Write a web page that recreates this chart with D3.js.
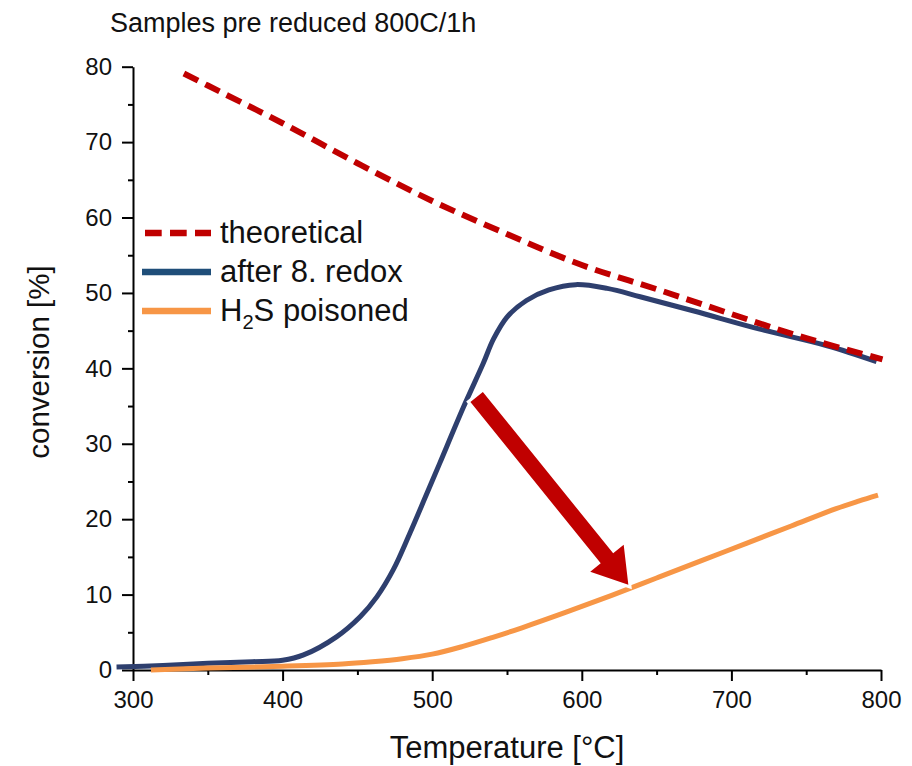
<!DOCTYPE html>
<html>
<head>
<meta charset="utf-8">
<script src="https://cdn.jsdelivr.net/npm/d3@7"></script>
<style>
  html, body { margin: 0; padding: 0; background: #fff; }
  svg { display: block; font-family: "Liberation Sans", Arial, sans-serif; }
</style>
</head>
<body>
<svg id="chart" width="912" height="766"></svg>
<script>
// ---------- data ----------
const titleText = "Samples pre reduced 800C/1h";
const xLabel = "Temperature [°C]";
const yLabel = "conversion [%]";

const xTicks = [300, 400, 500, 600, 700, 800];
const xMinorTicks = [350, 450, 550, 650, 750];
const yTicks = [0, 10, 20, 30, 40, 50, 60, 70, 80];
const yMinorTicks = [5, 15, 25, 35, 45, 55, 65, 75];

const seriesNames = ["theoretical", "after 8. redox", "H2S poisoned"];

const theoreticalT = [334, 350, 400, 450, 500, 550, 600, 650, 700, 750, 801];
const theoreticalV = [79.1, 77.5, 72.5, 67.2, 62.2, 57.8, 53.7, 50.5, 47.2, 44.0, 41.2];

const redoxT = [289, 320, 350, 380, 400, 414, 436, 452, 463, 474, 485, 496, 505, 521, 534, 541, 550, 563, 578, 596, 617, 639, 675, 719, 764, 797];
const redoxV = [0.4, 0.6, 0.9, 1.1, 1.3, 2.0, 4.4, 7.1, 9.7, 13.3, 18.1, 23.2, 27.4, 34.9, 40.6, 43.9, 46.8, 49.0, 50.4, 51.1, 50.6, 49.5, 47.6, 45.2, 43.0, 40.9];

const poisonedT = [312, 350, 400, 440, 460, 480, 500, 520, 540, 560, 590, 620, 650, 680, 710, 740, 770, 785, 798];
const poisonedV = [0.0, 0.25, 0.5, 0.8, 1.1, 1.5, 2.1, 3.1, 4.3, 5.6, 7.7, 9.9, 12.2, 14.5, 16.8, 19.1, 21.4, 22.4, 23.2];

// arrow annotation (data coordinates): tail -> tip
const arrowFrom = [529.7, 36.2];
const arrowTo = [631.1, 11.3];

// ---------- layout ----------
const svg = d3.select("#chart");
const x = d3.scaleLinear().domain([300, 800]).range([133, 881]);
const y = d3.scaleLinear().domain([0, 80]).range([670, 66.7]);

const colors = { theo: "#c00000", redox: "#2e3f6e", redoxLegend: "#1f4e79", pois: "#f79646" };

// title
svg.append("text").attr("x", 110).attr("y", 32)
  .attr("font-size", 27).attr("fill", "#111").text(titleText);

// axes
const axisFont = 24;
svg.append("g").attr("transform", `translate(0,${y(0)})`)
  .call(d3.axisBottom(x).tickValues(xTicks).tickSize(11).tickSizeOuter(0).tickPadding(10).tickFormat(d3.format("d")));
const gxm = svg.append("g").attr("transform", `translate(0,${y(0)})`)
  .call(d3.axisBottom(x).tickValues(xMinorTicks).tickSize(5).tickSizeOuter(0).tickFormat(""));
gxm.select(".domain").remove();
svg.append("g").attr("transform", `translate(${x(300)},0)`)
  .call(d3.axisLeft(y).tickValues(yTicks).tickSize(11).tickSizeOuter(0).tickPadding(10).tickFormat(d3.format("d")));
const gym = svg.append("g").attr("transform", `translate(${x(300)},0)`)
  .call(d3.axisLeft(y).tickValues(yMinorTicks).tickSize(5).tickSizeOuter(0).tickFormat(""));
gym.select(".domain").remove();

svg.selectAll(".domain").attr("stroke", "#000").attr("stroke-width", 2);
svg.selectAll(".tick line").attr("stroke", "#000").attr("stroke-width", 2);
svg.selectAll(".tick text").attr("font-size", axisFont).attr("fill", "#111")
  .attr("font-family", "Liberation Sans, Arial, sans-serif");

// axis titles
svg.append("text").attr("x", 507).attr("y", 758).attr("text-anchor", "middle")
  .attr("font-size", 31).attr("fill", "#111").text(xLabel);
svg.append("text").attr("transform", `translate(49,362) rotate(-90)`).attr("text-anchor", "middle")
  .attr("font-size", 29.5).attr("fill", "#111").text(yLabel);

// lines
const mk = (T, V) => T.map((t, i) => [t, V[i]]);
const line = d3.line().x(d => x(d[0])).y(d => y(d[1])).curve(d3.curveCatmullRom.alpha(0.5));

svg.append("path").datum(mk(redoxT, redoxV)).attr("d", line)
  .attr("fill", "none").attr("stroke", colors.redox).attr("stroke-width", 5).attr("stroke-linecap", "butt");
svg.append("path").datum(mk(poisonedT, poisonedV)).attr("d", line)
  .attr("fill", "none").attr("stroke", colors.pois).attr("stroke-width", 5);
svg.append("path").datum(mk(theoreticalT, theoreticalV)).attr("d", line)
  .attr("fill", "none").attr("stroke", colors.theo).attr("stroke-width", 6).attr("stroke-dasharray", "16,8");

// arrow
(function () {
  const x0 = x(arrowFrom[0]), y0 = y(arrowFrom[1]);
  const x1 = x(arrowTo[0]), y1 = y(arrowTo[1]);
  const dx = x1 - x0, dy = y1 - y0, L = Math.hypot(dx, dy);
  const ux = dx / L, uy = dy / L, px = -uy, py = ux;
  const sw = 8, hw = 21.5, hl = 34;
  const bx = x1 - ux * hl, by = y1 - uy * hl;
  const pts = [
    [x0 + px * sw, y0 + py * sw],
    [bx + px * sw, by + py * sw],
    [bx + px * hw, by + py * hw],
    [x1, y1],
    [bx - px * hw, by - py * hw],
    [bx - px * sw, by - py * sw],
    [x0 - px * sw, y0 - py * sw]
  ];
  svg.append("path").attr("d", "M" + pts.map(p => p.join(",")).join("L") + "Z")
    .attr("fill", colors.theo).attr("stroke", "#fff").attr("stroke-width", 6)
    .attr("stroke-linejoin", "miter").attr("paint-order", "stroke");
})();

// legend
const legendY = [233, 272, 311];
const lg = svg.append("g");
lg.append("line").attr("x1", 145).attr("x2", 211).attr("y1", legendY[0]).attr("y2", legendY[0])
  .attr("stroke", colors.theo).attr("stroke-width", 6.5).attr("stroke-dasharray", "16.7,8.3");
lg.append("line").attr("x1", 142).attr("x2", 211).attr("y1", legendY[1]).attr("y2", legendY[1])
  .attr("stroke", colors.redoxLegend).attr("stroke-width", 6.5);
lg.append("line").attr("x1", 142).attr("x2", 211).attr("y1", legendY[2]).attr("y2", legendY[2])
  .attr("stroke", colors.pois).attr("stroke-width", 6.5);
const legFont = 31;
lg.append("text").attr("x", 220).attr("y", legendY[0] + 10).attr("font-size", legFont).attr("fill", "#111").text(seriesNames[0]);
lg.append("text").attr("x", 220).attr("y", legendY[1] + 10).attr("font-size", legFont).attr("fill", "#111").text(seriesNames[1]);
const t3 = lg.append("text").attr("x", 220).attr("y", legendY[2] + 10).attr("font-size", legFont).attr("fill", "#111");
t3.append("tspan").text("H");
t3.append("tspan").attr("font-size", legFont * 0.65).attr("dy", 8).text("2");
t3.append("tspan").attr("dy", -8).text("S poisoned");
</script>
</body>
</html>
